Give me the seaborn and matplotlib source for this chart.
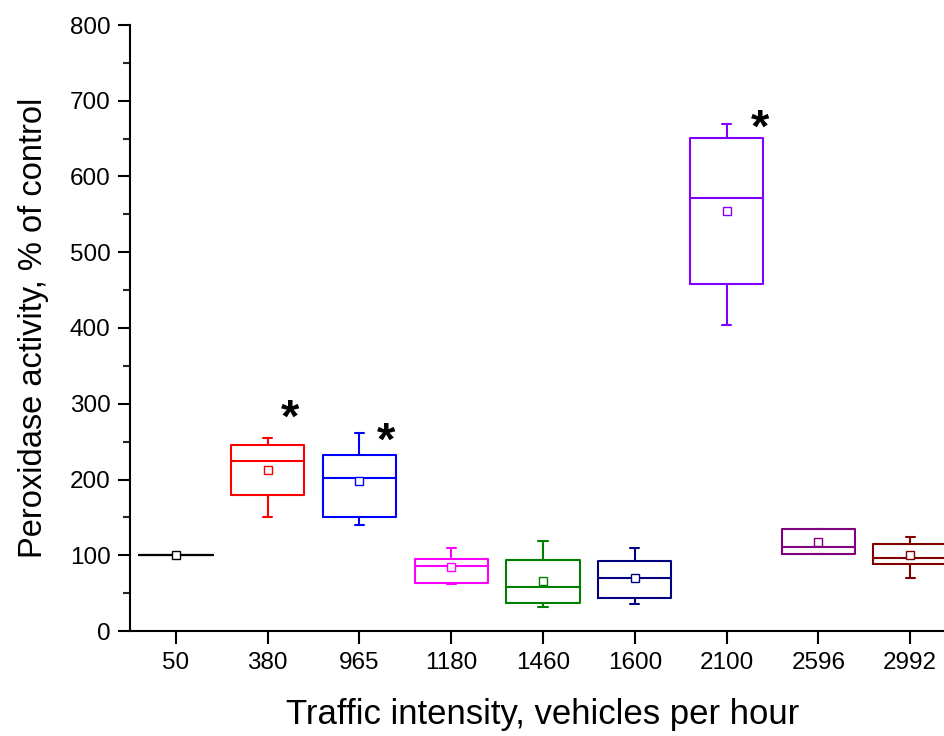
import numpy as np
import pandas as pd
import matplotlib
matplotlib.use('Agg')
import matplotlib.pyplot as plt
from matplotlib.ticker import MultipleLocator
import seaborn as sns

# traffic intensity groups (vehicles per hour)
groups = ['50', '380', '965', '1180', '1460', '1600', '2100', '2596', '2992']

# box statistics (% of control)
whis_low = [100, 150, 140, 62, 32, 35, 404, 102, 70]
q1 = [100, 180, 150, 63, 37, 44, 458, 102, 88]
median = [100, 224, 202, 86, 58, 70, 572, 111, 96]
q3 = [100, 246, 232, 95, 94, 93, 651, 135, 115]
whis_high = [100, 255, 261, 110, 119, 109, 669, 135, 124]
means = [100, 213, 198, 84, 66, 70, 554, 117, 100]

colors = ['#000000', '#FF0000', '#0000FF', '#FF00FF', '#008000',
          '#000080', '#8000FF', '#800080', '#800000']

# significance marks
star_groups = ['380', '965', '2100']
star_offsets = [0.24, 0.29, 0.36]
star_values = [285, 255, 668]

# five values per group give exactly these quartiles and whiskers
rows = []
for g, a, b, c, d, e in zip(groups, whis_low, q1, median, q3, whis_high):
    for v in (a, b, c, d, e):
        rows.append({'group': g, 'value': v})
df = pd.DataFrame(rows)

sns.set_style('ticks')
plt.rcParams['font.family'] = ['Liberation Sans', 'DejaVu Sans']

fig = plt.figure(figsize=(9.45, 7.36), dpi=100)
ax = fig.add_axes([130 / 945, 105 / 736, 826 / 945, 606 / 736])

sns.boxplot(data=df, x='group', y='value', hue='group', order=groups,
            hue_order=groups, palette=colors, fill=False, width=0.8,
            whis=np.inf, linewidth=1.5, legend=False, ax=ax, capwidths=0.1)

for i, (m, c) in enumerate(zip(means, colors)):
    ax.plot(i, m, marker='s', markersize=6, mfc='white', mec=c, mew=1.0, zorder=5)

for g, off, v in zip(star_groups, star_offsets, star_values):
    ax.text(groups.index(g) + off, v, '*', fontsize=34, fontweight='bold',
            ha='center', va='center_baseline', color='black')

ax.set_xlim(-0.5, 8.5)
ax.set_ylim(0, 800)
ax.yaxis.set_major_locator(MultipleLocator(100))
ax.yaxis.set_minor_locator(MultipleLocator(50))
ax.tick_params(axis='both', which='major', direction='out', length=9,
               width=1.5, labelsize=17.5, color='black', labelcolor='black')
ax.tick_params(axis='y', which='minor', direction='out', length=5, width=1.5)
ax.tick_params(axis='x', pad=6)
ax.tick_params(axis='y', pad=5)
sns.despine(ax=ax)
for s in ('left', 'bottom'):
    ax.spines[s].set_linewidth(1.5)
    ax.spines[s].set_color('black')

ax.set_xlabel('Traffic intensity, vehicles per hour', fontsize=25, labelpad=17.5,
              color='black')
ax.set_ylabel('Peroxidase activity, % of control', fontsize=23.5, labelpad=15,
              color='black')

fig.savefig('out.png', dpi=100)
